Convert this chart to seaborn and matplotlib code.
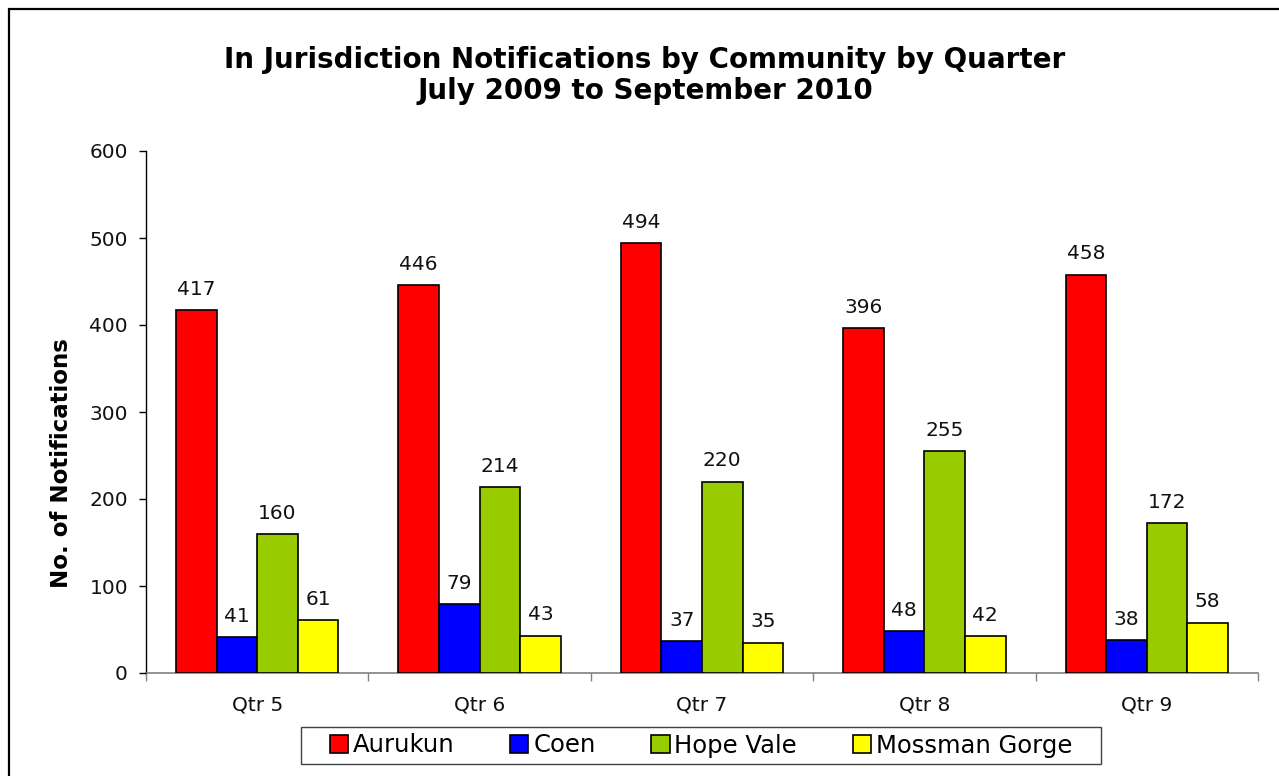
import matplotlib
matplotlib.use("Agg")
import matplotlib.pyplot as plt
from matplotlib.patches import Rectangle
from matplotlib.path import Path
from matplotlib.ticker import FixedLocator, NullFormatter
import numpy as np
import pandas as pd
import seaborn as sns

# Quarterly notification counts per community
quarters = ["Qtr 5", "Qtr 6", "Qtr 7", "Qtr 8", "Qtr 9"]
communities = ["Aurukun", "Coen", "Hope Vale", "Mossman Gorge"]
aurukun = [417, 446, 494, 396, 458]
coen = [41, 79, 37, 48, 38]
hope_vale = [160, 214, 220, 255, 172]
mossman_gorge = [61, 43, 35, 42, 58]
colors = ["#FF0000", "#0000FF", "#99CC00", "#FFFF00"]

df = pd.DataFrame({
    "Quarter": quarters * 4,
    "Community": np.repeat(communities, len(quarters)),
    "Notifications": aurukun + coen + hope_vale + mossman_gorge,
})

sns.set_style("white")
plt.rcParams["font.family"] = ["DejaVu Sans"]
plt.rcParams.update({
    "text.color": "black",
    "axes.labelcolor": "black",
    "xtick.color": "black",
    "ytick.color": "black",
})

W, H = 1279, 776
fig = plt.figure(figsize=(W / 100, H / 100), dpi=100)
ax = fig.add_axes([146 / W, 1 - 673 / H, (1258 - 146) / W, (673 - 151) / H])

sns.barplot(
    data=df, x="Quarter", y="Notifications", hue="Community",
    order=quarters, hue_order=communities, palette=colors,
    width=0.73, gap=0, edgecolor="black", linewidth=1.2,
    saturation=1, ax=ax, legend=True,
)

for cont in ax.containers:
    ax.bar_label(cont, padding=8, fontsize=14.5, color="#111111")

ax.set_ylim(0, 600)
ax.set_xlim(-0.5, len(quarters) - 0.5)
ax.set_yticks(range(0, 601, 100))
ax.tick_params(axis="y", which="major", direction="out", length=5, width=1,
               color="black", labelsize=14.5, pad=8, left=True,
               labelcolor="#111111")
ax.tick_params(axis="x", which="major", length=0, labelsize=14.5, pad=16,
               labelcolor="#111111")
ax.xaxis.set_minor_locator(FixedLocator(np.arange(-0.5, len(quarters), 1.0)))
ax.xaxis.set_minor_formatter(NullFormatter())
ax.tick_params(axis="x", which="minor", direction="out", length=6, width=1,
               color="#808080", bottom=True)

for side in ["top", "right"]:
    ax.spines[side].set_visible(False)
ax.spines["left"].set_color("black")
ax.spines["left"].set_linewidth(1)
ax.spines["bottom"].set_color("#808080")
ax.spines["bottom"].set_linewidth(1.2)
for sp in ax.spines.values():
    sp.set_zorder(0.5)

ax.set_xlabel("")
ax.set_ylabel("No. of Notifications", fontsize=16.5, fontweight="bold")
ax.yaxis.set_label_coords(-0.0656, 0.402)

fig.text(645 / W, 1 - 46 / H,
         "In Jurisdiction Notifications by Community by Quarter\nJuly 2009 to September 2010",
         ha="center", va="top", fontsize=20, fontweight="bold",
         linespacing=1.15, multialignment="center")

# Legend below the plot, boxed, one row
handles, labels = ax.get_legend_handles_labels()
if ax.legend_:
    ax.legend_.remove()
leg = fig.legend(
    handles, labels, ncol=4, loc="center",
    bbox_to_anchor=(701 / W, 1 - 745.5 / H),
    fontsize=17.5, frameon=True, fancybox=False, shadow=False,
    handlelength=0.75, handleheight=0.75, handletextpad=0.2,
    columnspacing=2.3, borderpad=0.25,
)
frame = leg.get_frame()
frame.set_edgecolor("#404040")
frame.set_linewidth(1.0)
frame.set_facecolor("white")
frame.set_alpha(1)
for h in leg.legend_handles:
    h.set_edgecolor("black")
    h.set_linewidth(1.2)


def wide_box(x0, y0, width, height, mutation_size, padx=22):
    x0 -= padx
    width += 2 * padx
    return Path([(x0, y0), (x0 + width, y0), (x0 + width, y0 + height),
                 (x0, y0 + height), (x0, y0)], closed=True)


frame.set_boxstyle(wide_box)

# Outer chart border
fig.patches.append(Rectangle((8.5 / W, -0.1), 1.2, 1.1 - 9 / H,
                             transform=fig.transFigure, fill=False,
                             edgecolor="black", linewidth=1.6, zorder=10))

fig.savefig("out.png", dpi=100)
